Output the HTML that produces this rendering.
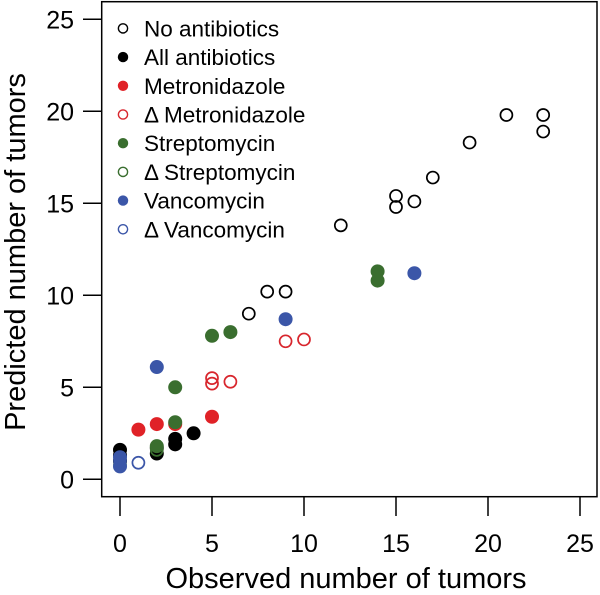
<!DOCTYPE html>
<html><head><meta charset="utf-8"><style>
body{margin:0;background:#fff}
svg text{font-family:"Liberation Sans",Arial,sans-serif;fill:#000}
</style></head><body>
<svg id="chart" width="600" height="590" xmlns="http://www.w3.org/2000/svg">
<rect x="101.7" y="1.7" width="495.3" height="495" fill="none" stroke="#000" stroke-width="1.5"/>
<g id="axes"></g><g id="pts"></g><g id="legend"></g>
<text x="346" y="588" text-anchor="middle" font-size="29">Observed number of tumors</text>
<text transform="translate(25,252) rotate(-90)" text-anchor="middle" font-size="29">Predicted number of tumors</text>
</svg>
<script>
const xTicks=[0,5,10,15,20,25];
const yTicks=[0,5,10,15,20,25];
const noAbX=[7,8,9,12,15,15,16,17,19,21,23,23];
const noAbY=[9.0,10.2,10.2,13.8,15.4,14.8,15.1,16.4,18.3,19.8,19.8,18.9];
const allAbX=[0,0,0,2,2,3,3,4];
const allAbY=[1.6,1.3,1.0,1.4,1.7,1.9,2.2,2.5];
const metX=[1,2,3,5];
const metY=[2.7,3.0,3.0,3.4];
const dMetX=[5,5,6,9,10];
const dMetY=[5.5,5.2,5.3,7.5,7.6];
const strX=[3,5,6,14,14,3,2];
const strY=[5.0,7.8,8.0,11.3,10.8,3.1,1.8];
const dStrX=[2,0];
const dStrY=[1.6,0.8];
const vanX=[2,9,16,0,0];
const vanY=[6.1,8.7,11.2,0.7,1.2];
const dVanX=[1,0];
const dVanY=[0.9,1.0];
const series=[
 {name:"No antibiotics",x:noAbX,y:noAbY,c:"#000",fill:false},
 {name:"All antibiotics",x:allAbX,y:allAbY,c:"#000",fill:true},
 {name:"Metronidazole",x:metX,y:metY,c:"#e02227",fill:true},
 {name:"Δ Metronidazole",x:dMetX,y:dMetY,c:"#d8262d",fill:false},
 {name:"Streptomycin",x:strX,y:strY,c:"#3a6e2f",fill:true},
 {name:"Δ Streptomycin",x:dStrX,y:dStrY,c:"#3a6e2f",fill:false},
 {name:"Vancomycin",x:vanX,y:vanY,c:"#3b56a8",fill:true},
 {name:"Δ Vancomycin",x:dVanX,y:dVanY,c:"#3b56a8",fill:false}
];
const NS="http://www.w3.org/2000/svg";
const sx=v=>120+v*18.4, sy=v=>479.3-v*18.4;
function mk(t,a,p){const e=document.createElementNS(NS,t);for(const k in a)e.setAttribute(k,a[k]);p.appendChild(e);return e;}
const ax=document.getElementById('axes');
xTicks.forEach(t=>{const l=mk('line',{x1:sx(t),x2:sx(t),y1:496.7,y2:516,stroke:'#000','stroke-width':1.5},ax);


const tx=mk('text',{x:sx(t),y:552,'text-anchor':'middle','font-size':25},ax);tx.textContent=t;

});
yTicks.forEach(t=>{const l=mk('line',{x1:83,x2:101.7,y1:sy(t),y2:sy(t),stroke:'#000','stroke-width':1.5},ax);


const tx=mk('text',{x:74,y:sy(t)+9,'text-anchor':'end','font-size':25},ax);tx.textContent=t;

});
const pg=document.getElementById('pts');
series.forEach(s=>{s.x.forEach((xv,i)=>{const c=mk('circle',{cx:sx(xv),cy:sy(s.y[i]),r:s.fill?7:6,fill:s.fill?s.c:'none',stroke:s.c,'stroke-width':s.fill?0:1.7},pg);

});});
const lg=document.getElementById('legend');
series.forEach((s,i)=>{const y=28.4+i*28.7;
const c=mk('circle',{cx:123,cy:y,r:s.fill?5.2:4.6,fill:s.fill?s.c:'none',stroke:s.c,'stroke-width':s.fill?0:1.4},lg);


const t=mk('text',{x:144,y:y+8,'font-size':22.5},lg);t.textContent=s.name;

});
</script>
</body></html>
